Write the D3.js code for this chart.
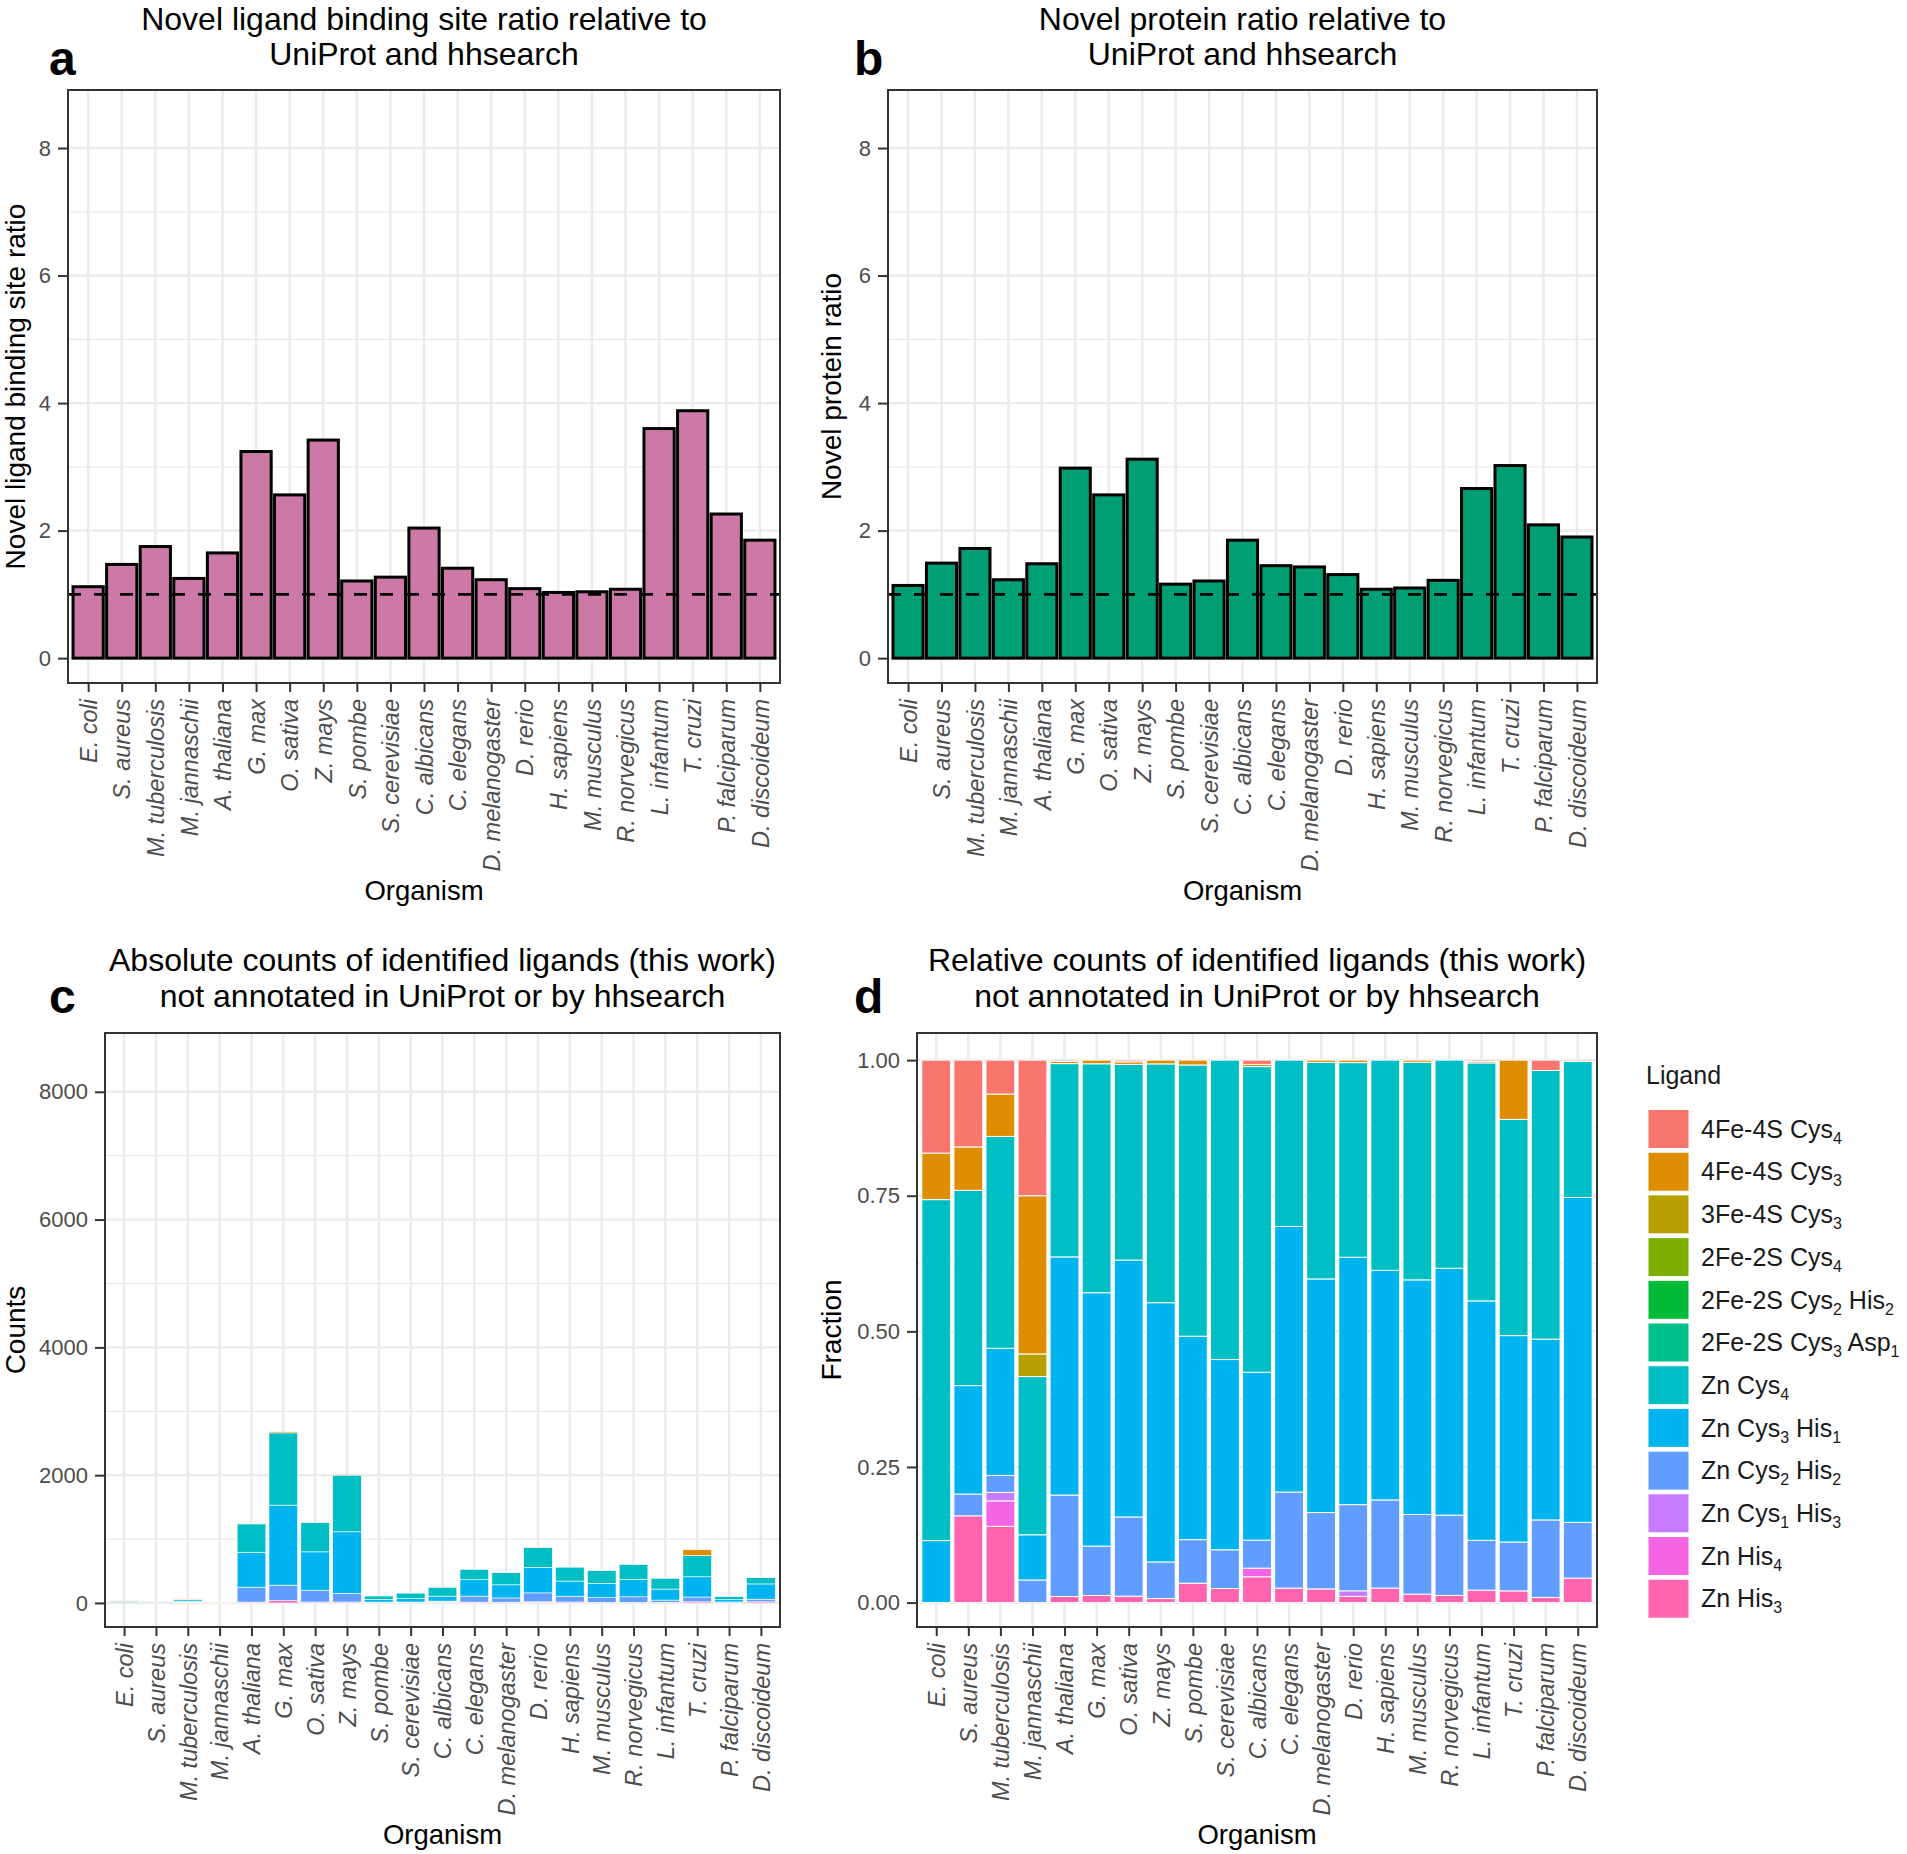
<!DOCTYPE html>
<html>
<head>
<meta charset="utf-8">
<title>Novel ligand binding sites</title>
<script src="https://cdnjs.cloudflare.com/ajax/libs/d3/7.8.5/d3.min.js"></script>
<style>
  body { margin: 0; background-color: white }
  svg text { font-family: "Liberation Sans", Arial, sans-serif }
</style>
</head>
<body>
<div id="chart"></div>
<script>
// ---- data ----
var organisms = ["E. coli", "S. aureus", "M. tuberculosis", "M. jannaschii", "A. thaliana",
  "G. max", "O. sativa", "Z. mays", "S. pombe", "S. cerevisiae", "C. albicans", "C. elegans",
  "D. melanogaster", "D. rerio", "H. sapiens", "M. musculus", "R. norvegicus", "L. infantum",
  "T. cruzi", "P. falciparum", "D. discoideum"];

var bindingSiteRatio = [1.12, 1.47, 1.75, 1.25, 1.65, 3.24, 2.56, 3.42, 1.21, 1.27, 2.04,
  1.41, 1.23, 1.09, 1.03, 1.04, 1.08, 3.60, 3.88, 2.26, 1.85];
var proteinRatio = [1.14, 1.49, 1.72, 1.23, 1.48, 2.98, 2.56, 3.12, 1.16, 1.21, 1.85,
  1.45, 1.43, 1.31, 1.08, 1.10, 1.22, 2.66, 3.02, 2.09, 1.90];

var ligands = ["4Fe-4S Cys4", "4Fe-4S Cys3", "3Fe-4S Cys3", "2Fe-2S Cys4", "2Fe-2S Cys2 His2",
  "2Fe-2S Cys3 Asp1", "Zn Cys4", "Zn Cys3 His1", "Zn Cys2 His2", "Zn Cys1 His3", "Zn His4", "Zn His3"];
var ligandLabels = [
  [["4Fe-4S Cys", "4"]], [["4Fe-4S Cys", "3"]], [["3Fe-4S Cys", "3"]], [["2Fe-2S Cys", "4"]],
  [["2Fe-2S Cys", "2"], [" His", "2"]], [["2Fe-2S Cys", "3"], [" Asp", "1"]],
  [["Zn Cys", "4"]], [["Zn Cys", "3"], [" His", "1"]], [["Zn Cys", "2"], [" His", "2"]],
  [["Zn Cys", "1"], [" His", "3"]], [["Zn His", "4"]], [["Zn His", "3"]]];
var ligandColors = ["#F8766D", "#DE8C00", "#B79F00", "#7CAE00", "#00BA38", "#00C08B",
  "#00BFC4", "#00B4F0", "#619CFF", "#C77CFF", "#F564E3", "#FF64B0"];

// counts per ligand, one value per organism (same order as organisms)
var fe4sCys4     = [6, 4, 4, 6, 3, 0, 4, 0, 0, 0, 2, 0, 0, 0, 0, 0, 0, 1, 0, 2, 1];
var fe4sCys3     = [3, 2, 5, 7, 5, 18, 6, 14, 1, 0, 1, 0, 2, 4, 0, 2, 0, 1, 91, 0, 0];
var fe3sCys3     = [0, 0, 0, 1, 0, 0, 0, 0, 0, 0, 0, 0, 0, 0, 0, 0, 0, 0, 0, 0, 0];
var fe2sCys4     = [0, 0, 0, 0, 0, 0, 0, 0, 0, 0, 0, 0, 0, 0, 0, 0, 0, 0, 0, 0, 0];
var fe2sCys2His2 = [0, 0, 0, 0, 0, 0, 0, 0, 0, 0, 0, 0, 0, 0, 0, 0, 0, 0, 0, 0, 0];
var fe2sCys3Asp1 = [0, 0, 0, 0, 0, 0, 0, 0, 0, 0, 0, 0, 0, 0, 0, 0, 0, 0, 0, 0, 0];
var znCys4       = [22, 9, 25, 7, 444, 1131, 457, 887, 56, 85, 142, 161, 190, 314, 217, 205, 231, 172, 332, 52, 100];
var znCys3His1   = [4, 5, 15, 2, 547, 1252, 600, 963, 42, 54, 78, 257, 205, 399, 237, 221, 274, 173, 317, 35, 239];
var znCys2His2   = [0, 1, 2, 1, 233, 244, 185, 136, 9, 11, 13, 93, 67, 139, 91, 75, 89, 36, 75, 15, 41];
var znCys1His3   = [0, 0, 1, 0, 0, 0, 0, 0, 0, 0, 0, 0, 0, 9, 0, 0, 0, 0, 0, 0, 0];
var znHis4       = [0, 0, 3, 0, 0, 0, 0, 0, 0, 0, 4, 0, 0, 0, 0, 0, 0, 0, 0, 0, 0];
var znHis3       = [0, 4, 9, 0, 14, 35, 15, 15, 4, 4, 12, 14, 12, 10, 15, 8, 8, 9, 18, 1, 18];

var countSeries = [fe4sCys4, fe4sCys3, fe3sCys3, fe2sCys4, fe2sCys2His2, fe2sCys3Asp1,
  znCys4, znCys3His1, znCys2His2, znCys1His3, znHis4, znHis3];

var countTable = organisms.map(function(o, i) {
  var row = {organism: o};
  ligands.forEach(function(l, k) { row[l] = countSeries[k][i]; });
  return row;
});

// ---- drawing ----
var svg = d3.select("#chart").append("svg")
  .attr("width", 1907).attr("height", 1854);

var grid = "#EBEBEB", ink = "#333333", tickText = "#4D4D4D";

function panel(cfg) {
  var g = svg.append("g");
  var x = d3.scalePoint().domain(organisms).range([cfg.left, cfg.right]).padding(0.6);
  var y = d3.scaleLinear().domain(cfg.yDomain).range([cfg.bottom, cfg.top]);
  var bw = x.step() * 0.9;

  g.append("g").selectAll("line").data(cfg.yMinor).join("line")
    .attr("x1", cfg.left).attr("x2", cfg.right)
    .attr("y1", function(d) { return y(d); }).attr("y2", function(d) { return y(d); })
    .attr("stroke", grid).attr("stroke-width", 1.3);
  g.append("g").selectAll("line").data(cfg.yMajor).join("line")
    .attr("x1", cfg.left).attr("x2", cfg.right)
    .attr("y1", function(d) { return y(d); }).attr("y2", function(d) { return y(d); })
    .attr("stroke", grid).attr("stroke-width", 2.4);
  g.append("g").selectAll("line").data(organisms).join("line")
    .attr("x1", function(d) { return x(d); }).attr("x2", function(d) { return x(d); })
    .attr("y1", cfg.top).attr("y2", cfg.bottom)
    .attr("stroke", grid).attr("stroke-width", 2.4);

  cfg.marks(g, x, y, bw);

  g.append("rect")
    .attr("x", cfg.left).attr("y", cfg.top)
    .attr("width", cfg.right - cfg.left).attr("height", cfg.bottom - cfg.top)
    .attr("fill", "none").attr("stroke", ink).attr("stroke-width", 2);

  var ya = g.append("g").attr("transform", "translate(" + cfg.left + ",0)")
    .call(d3.axisLeft(y).tickValues(cfg.yMajor).tickFormat(cfg.fmt).tickSize(10).tickPadding(7));
  ya.select(".domain").remove();
  ya.selectAll("line").attr("stroke", ink).attr("stroke-width", 2);
  ya.selectAll("text").attr("font-size", 22).attr("fill", tickText)
    .attr("font-family", "Liberation Sans, Arial, sans-serif");

  var xa = g.append("g").attr("transform", "translate(0," + cfg.bottom + ")")
    .call(d3.axisBottom(x).tickSize(9));
  xa.select(".domain").remove();
  xa.selectAll("line").attr("stroke", ink).attr("stroke-width", 2);
  xa.selectAll("text")
    .attr("transform", "rotate(-90)")
    .attr("x", -16).attr("y", 0).attr("dy", "0.35em")
    .attr("text-anchor", "end")
    .attr("font-size", 23.5).attr("font-style", "italic").attr("fill", tickText)
    .attr("font-family", "Liberation Sans, Arial, sans-serif");

  var cx = (cfg.left + cfg.right) / 2;
  cfg.title.forEach(function(t, i) {
    g.append("text").attr("x", cx).attr("y", cfg.titleY[i])
      .attr("text-anchor", "middle").attr("font-size", 32).text(t);
  });
  g.append("text").attr("x", cfg.letterX).attr("y", cfg.letterY)
    .attr("font-size", 48).attr("font-weight", "bold").text(cfg.letter);
  g.append("text").attr("x", cx).attr("y", cfg.bottom + 217)
    .attr("text-anchor", "middle").attr("font-size", 27.5).text("Organism");
  g.append("text")
    .attr("transform", "translate(" + cfg.yTitleX + "," + (cfg.top + cfg.bottom) / 2 + ") rotate(-90)")
    .attr("text-anchor", "middle").attr("dy", "0.35em").attr("font-size", 28).text(cfg.yTitle);
}

function ratioBars(values, fill) {
  return function(g, x, y, bw) {
    g.append("g").selectAll("rect").data(organisms).join("rect")
      .attr("x", function(d) { return x(d) - bw / 2; })
      .attr("width", bw)
      .attr("y", function(d, i) { return y(values[i]); })
      .attr("height", function(d, i) { return y(0) - y(values[i]); })
      .attr("fill", fill).attr("stroke", "black").attr("stroke-width", 3);
    g.append("line")
      .attr("x1", x.range()[0]).attr("x2", x.range()[1])
      .attr("y1", y(1)).attr("y2", y(1))
      .attr("stroke", "black").attr("stroke-width", 2.6).attr("stroke-dasharray", "13,13");
  };
}

function stackedBars(offset, lw) {
  return function(g, x, y, bw) {
    var st = d3.stack().keys(ligands.slice().reverse()).offset(offset);
    var layers = st(countTable);
    g.append("g").selectAll("g").data(layers).join("g")
      .attr("fill", function(d) { return ligandColors[ligands.indexOf(d.key)]; })
      .selectAll("rect").data(function(d) { return d.filter(function(s) { return s[1] > s[0]; }); })
      .join("rect")
      .attr("x", function(d) { return x(d.data.organism) - bw / 2; })
      .attr("width", bw)
      .attr("y", function(d) { return y(d[1]); })
      .attr("height", function(d) { return y(d[0]) - y(d[1]); })
      .attr("stroke", "white").attr("stroke-width", lw);
  };
}

panel({
  left: 68, right: 780, top: 90, bottom: 683,
  yDomain: [-0.39, 8.91], yMajor: [0, 2, 4, 6, 8], yMinor: [1, 3, 5, 7], fmt: d3.format("d"),
  title: ["Novel ligand binding site ratio relative to", "UniProt and hhsearch"], titleY: [30, 65],
  letter: "a", letterX: 49, letterY: 75, yTitle: "Novel ligand binding site ratio", yTitleX: 15,
  marks: ratioBars(bindingSiteRatio, "#CC79A7")
});

panel({
  left: 888, right: 1597, top: 90, bottom: 683,
  yDomain: [-0.39, 8.91], yMajor: [0, 2, 4, 6, 8], yMinor: [1, 3, 5, 7], fmt: d3.format("d"),
  title: ["Novel protein ratio relative to", "UniProt and hhsearch"], titleY: [30, 65],
  letter: "b", letterX: 854, letterY: 75, yTitle: "Novel protein ratio", yTitleX: 831,
  marks: ratioBars(proteinRatio, "#009E73")
});

panel({
  left: 105, right: 780, top: 1033, bottom: 1627,
  yDomain: [-376, 8920], yMajor: [0, 2000, 4000, 6000, 8000], yMinor: [1000, 3000, 5000, 7000],
  fmt: d3.format("d"),
  title: ["Absolute counts of identified ligands (this work)", "not annotated in UniProt or by hhsearch"],
  titleY: [971, 1007],
  letter: "c", letterX: 49, letterY: 1013, yTitle: "Counts", yTitleX: 15,
  marks: stackedBars(d3.stackOffsetNone, 0.6)
});

panel({
  left: 917, right: 1597, top: 1033, bottom: 1627,
  yDomain: [-0.045, 1.05], yMajor: [0, 0.25, 0.5, 0.75, 1], yMinor: [0.125, 0.375, 0.625, 0.875],
  fmt: d3.format(".2f"),
  title: ["Relative counts of identified ligands (this work)", "not annotated in UniProt or by hhsearch"],
  titleY: [971, 1007],
  letter: "d", letterX: 854, letterY: 1013, yTitle: "Fraction", yTitleX: 831,
  marks: stackedBars(d3.stackOffsetExpand, 1)
});

// ---- legend ----
var legend = svg.append("g");
legend.append("text").attr("x", 1646).attr("y", 1084).attr("font-size", 25)
  .attr("fill", "#1a1a1a").text("Ligand");
var item = legend.selectAll("g.item").data(ligands).join("g")
  .attr("class", "item")
  .attr("transform", function(d, i) { return "translate(1648," + (1129 + i * 42.7) + ")"; });
item.append("rect").attr("x", 0).attr("y", -19.5).attr("width", 41).attr("height", 39)
  .attr("fill", function(d, i) { return ligandColors[i]; })
  .attr("stroke", "white").attr("stroke-width", 1);
item.append("text").attr("x", 53).attr("y", 0).attr("dy", "0.35em").attr("font-size", 25)
  .attr("fill", "#1a1a1a")
  .each(function(d, i) {
    var t = d3.select(this);
    ligandLabels[i].forEach(function(part) {
      t.append("tspan").attr("dy", part === ligandLabels[i][0] ? null : -6).text(part[0]);
      t.append("tspan").attr("font-size", 16).attr("dy", 6).text(part[1]);
    });
  });
</script>
</body>
</html>
